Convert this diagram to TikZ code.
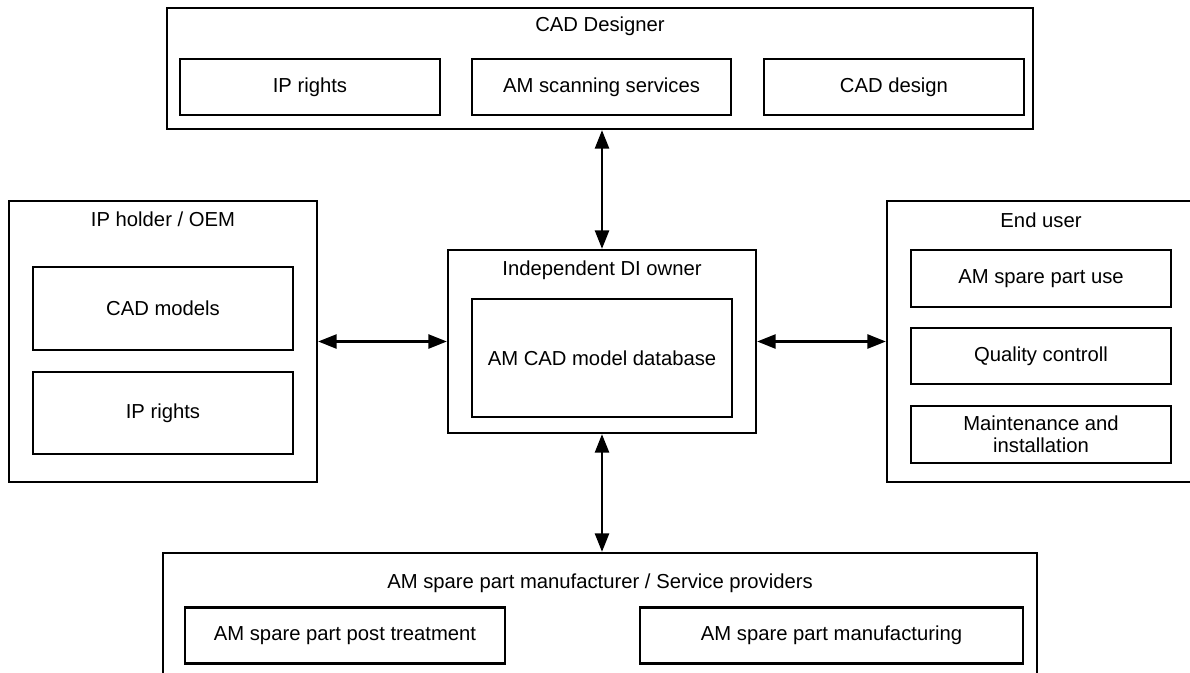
\documentclass[tikz,border=0pt]{standalone}
\usepackage{fontspec}
\setmainfont{Liberation Sans}
\usetikzlibrary{arrows.meta}
\newlength{\basisdiunit}
\setlength{\basisdiunit}{0.025cm}
\tikzset{
  groupbox/.style={draw, line width=2.3\basisdiunit, inner sep=0pt},
  rolebox/.style={draw, line width=2.3\basisdiunit, inner sep=0pt, align=center},
  grouptitle/.style={inner sep=0pt},
  flow/.style={{Triangle[length=0.46cm,width=0.35cm]}-{Triangle[length=0.46cm,width=0.35cm]}, line width=2.3\basisdiunit}
}

\begin{document}
\begin{tikzpicture}[every node/.style={font=\fontsize{14.4}{16}\selectfont}]
    \useasboundingbox (0,0) rectangle (1190\basisdiunit,-672\basisdiunit);

    % CAD designer
    \draw (600\basisdiunit,-68.5\basisdiunit) 
		node[groupbox, minimum width=866\basisdiunit, minimum height=121\basisdiunit] 
			(cad-designer) {};
    \draw (600\basisdiunit,-26\basisdiunit) node[grouptitle] (cad-designer-title) {CAD Designer};
    \draw (310\basisdiunit,-87\basisdiunit) 
		node[rolebox, minimum width=260\basisdiunit, minimum height=56\basisdiunit] 
			(cad-ip-rights) {IP rights};
    \draw (601.5\basisdiunit,-87\basisdiunit) 
		node[rolebox, minimum width=259\basisdiunit, minimum height=56\basisdiunit] 
			(cad-scanning) {AM scanning services};
    \draw (894\basisdiunit,-87\basisdiunit) 
		node[rolebox, minimum width=260\basisdiunit, minimum height=56\basisdiunit] 
			(cad-design) {CAD design};

    % independent DI owner
    \draw (602\basisdiunit,-341.5\basisdiunit) 
		node[groupbox, minimum width=308\basisdiunit, minimum height=183\basisdiunit] 
			(di-owner) {};
    \draw (602\basisdiunit,-270\basisdiunit) node[grouptitle] (di-owner-title) {Independent DI owner};
    \draw (602\basisdiunit,-358\basisdiunit) 
		node[rolebox, minimum width=260\basisdiunit, minimum height=118\basisdiunit] 
			(di-database) {AM CAD model database};

    % IP holder / OEM
    \draw (163\basisdiunit,-341.5\basisdiunit) 
		node[groupbox, minimum width=308\basisdiunit, minimum height=281\basisdiunit] 
			(ip-holder) {};
    \draw (163\basisdiunit,-219\basisdiunit) node[grouptitle] (ip-holder-title) {IP holder / OEM};
    \draw (163\basisdiunit,-308.5\basisdiunit) 
		node[rolebox, minimum width=260\basisdiunit, minimum height=83\basisdiunit] 
			(ip-cad-models) {CAD models};
    \draw (163\basisdiunit,-413\basisdiunit) 
		node[rolebox, minimum width=260\basisdiunit, minimum height=82\basisdiunit] 
			(ip-rights) {IP rights};

    % end user
    \draw (1041\basisdiunit,-341.5\basisdiunit) 
		node[groupbox, minimum width=308\basisdiunit, minimum height=281\basisdiunit] 
			(end-user) {};
    \draw (1041\basisdiunit,-220\basisdiunit) node[grouptitle] (end-user-title) {End user};
    \draw (1041\basisdiunit,-278.5\basisdiunit) 
		node[rolebox, minimum width=260\basisdiunit, minimum height=57\basisdiunit] 
			(eu-use) {AM spare part use};
    \draw (1041\basisdiunit,-356\basisdiunit) 
		node[rolebox, minimum width=260\basisdiunit, minimum height=56\basisdiunit] 
			(eu-quality) {Quality controll};
    \draw (1041\basisdiunit,-434.5\basisdiunit) 
		node[rolebox, minimum width=260\basisdiunit, minimum height=57\basisdiunit] 
			(eu-maintenance) {Maintenance and\\installation};

    % manufacturer / service providers
    \draw (600\basisdiunit,-623\basisdiunit) 
		node[groupbox, minimum width=874\basisdiunit, minimum height=140\basisdiunit] 
			(manufacturer) {};
    \draw (600\basisdiunit,-583\basisdiunit) node[grouptitle] (manufacturer-title) {AM spare part manufacturer / Service providers};
    \draw (345\basisdiunit,-635.5\basisdiunit) 
		node[rolebox, minimum width=320\basisdiunit, minimum height=56\basisdiunit] 
			(mf-post) {AM spare part post treatment};
    \draw (831.5\basisdiunit,-635.5\basisdiunit) 
		node[rolebox, minimum width=383\basisdiunit, minimum height=56\basisdiunit] 
			(mf-manufacturing) {AM spare part manufacturing};

	\draw[flow] (di-owner.north |- cad-designer.south) -- (di-owner.north);
	\draw[flow] (ip-holder) -- (di-owner);
	\draw[flow] (di-owner) -- (end-user);
	\draw[flow] (di-owner.south) -- (di-owner.south |- manufacturer.north);
\end{tikzpicture}
\end{document}
